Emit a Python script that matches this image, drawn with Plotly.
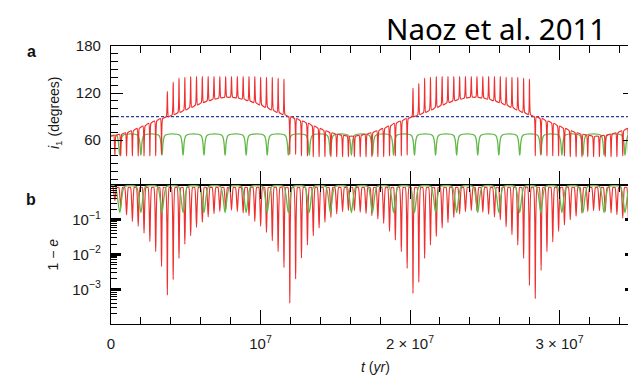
import plotly.graph_objects as go

# ---------------- data (times in Myr) ----------------
# red curve: one entry per Kozai cycle (spike / e-maximum)
t_spike_myr = [
    0.26, 0.65, 1.04, 1.43, 1.82, 2.21, 2.60, 2.99, 3.38,
    3.77,
    4.16, 4.55, 4.94, 5.33, 5.72, 6.11, 6.50, 6.89, 7.28, 7.67,
    8.06, 8.45, 8.84, 9.23, 9.62, 10.01, 10.40, 10.79, 11.18, 11.57,
    11.96,
    12.35, 12.74, 13.14, 13.53, 13.92, 14.31, 14.71, 15.10, 15.49, 15.88,
    16.28, 16.67, 17.06, 17.45, 17.85, 18.24, 18.63, 19.02, 19.42, 19.81,
    20.20,
    20.59, 20.98, 21.37, 21.76, 22.15, 22.54, 22.93, 23.32, 23.71, 24.10,
    24.48, 24.87, 25.26, 25.65, 26.04, 26.43, 26.82, 27.21, 27.60, 27.99,
    28.38,
    28.77, 29.16, 29.55, 29.94, 30.33, 30.72, 31.11, 31.50, 31.89, 32.28,
    32.67, 33.06, 33.45, 33.84, 34.23, 34.62,
]
inc_base = [
    66, 67.5, 69.5, 72, 75, 78, 81.5, 84.5, 87.5,
    90,
    92.5, 95.5, 98.5, 102, 105, 108, 110.5, 112.5, 114, 115,
    115, 114, 112.5, 110.5, 108, 105, 102, 98.5, 95.5, 92.5,
    90,
    87.5, 84.5, 81.5, 78, 75, 72, 69.5, 67.5, 66, 65,
    65, 66, 67.5, 69.5, 72, 75, 78, 81.5, 84.5, 87.5,
    90,
    92.5, 95.5, 98.5, 102, 105, 108, 110.5, 112.5, 114, 115,
    115, 114, 112.5, 110.5, 108, 105, 102, 98.5, 95.5, 92.5,
    90,
    87.5, 84.5, 81.5, 78, 75, 72, 69.5, 67.5, 66, 65,
    65, 66, 67.5, 69.5, 72, 75,
]
inc_tip = [
    41, 40, 40, 40, 40, 40, 40, 40, 42,
    122,
    134, 139, 140, 141, 141, 141, 141, 141, 141, 141,
    141, 141, 141, 141, 141, 140, 140, 140, 139, 138,
    42,
    42, 40, 40, 39, 39, 39, 39, 39, 39, 39,
    39, 39, 39, 39, 39, 39, 40, 40, 40, 41,
    126,
    132, 139, 140, 141, 141, 141, 141, 141, 141, 141,
    141, 141, 141, 141, 141, 140, 140, 140, 139, 138,
    40,
    42, 40, 40, 40, 40, 39, 39, 39, 39, 39,
    39, 39, 39, 39, 40, 40,
]
ome_dip = [
    0.355, 0.22, 0.138, 0.089, 0.065, 0.041, 0.0234, 0.012, 0.0045,
    6.8e-4,
    1.9e-3, 7.8e-3, 0.020, 0.035, 0.060, 0.085, 0.12, 0.15, 0.174, 0.19,
    0.19, 0.174, 0.158, 0.132, 0.089, 0.065, 0.043, 0.025, 0.012, 0.0042,
    4.0e-4,
    2.0e-3, 7.9e-3, 0.019, 0.035, 0.058, 0.085, 0.117, 0.148, 0.17, 0.186,
    0.182, 0.166, 0.151, 0.132, 0.105, 0.079, 0.046, 0.026, 0.012, 0.004,
    7.6e-4,
    1.6e-3, 7.8e-3, 0.019, 0.033, 0.058, 0.083, 0.117, 0.148, 0.17, 0.186,
    0.182, 0.166, 0.145, 0.12, 0.10, 0.063, 0.037, 0.019, 0.0078, 0.0013,
    5.4e-4,
    3.5e-3, 0.012, 0.023, 0.046, 0.071, 0.10, 0.126, 0.155, 0.174, 0.182,
    0.182, 0.174, 0.158, 0.141, 0.112, 0.089,
]
red_inc_start = 65.0
red_ome_top = 0.85

# green curve (quadrupole-only): one entry per cycle
t_green_myr = [0.59, 2.00, 3.41, 4.82, 6.22, 7.63, 9.04, 10.45, 11.86, 13.26,
               14.67, 16.08, 17.49, 18.90, 20.30, 21.71, 23.12, 24.53, 25.94,
               27.34, 28.75, 30.16, 31.57, 32.98, 34.38]
green_inc_base = 66.0
green_inc_tip = 41.0
green_ome_top = 0.90
green_ome_dip = 0.16

t_end_myr = 35.05
i_ref = 90  # i = 90 deg reference line

x_tickvals = [0, 1e7, 2e7, 3e7]
x_ticktext = ["0", "10<sup>7</sup>", "2 × 10<sup>7</sup>", "3 × 10<sup>7</sup>"]
ya_tickvals = [60, 120, 180]
yb_tickvals = [0.1, 0.01, 0.001]
yb_ticktext = ["10<sup>−1</sup>", "10<sup>−2</sup>", "10<sup>−3</sup>"]

# ---------------- build polylines ----------------
MYR = 1e6
half_a = 0.07   # spike half-width (Myr)
half_b = 0.12
half_ga = 0.2
half_gb = 0.3

rx_a, ry_a = [0.0], [red_inc_start]
rx_b, ry_b = [0.0], [0.99]
for t, b, tp, d in zip(t_spike_myr, inc_base, inc_tip, ome_dip):
    rx_a += [(t - half_a) * MYR, t * MYR, (t + half_a) * MYR]
    ry_a += [b, tp, b]
    rx_b += [(t - half_b) * MYR, t * MYR, (t + half_b) * MYR]
    ry_b += [red_ome_top, d, red_ome_top]
rx_a.append(t_end_myr * MYR); ry_a.append(inc_base[-1])
rx_b.append(t_end_myr * MYR); ry_b.append(red_ome_top)

gx_a, gy_a = [0.0], [green_inc_base]
gx_b, gy_b = [0.0], [0.99]
for t in t_green_myr:
    gx_a += [(t - half_ga) * MYR, t * MYR, (t + half_ga) * MYR]
    gy_a += [green_inc_base, green_inc_tip, green_inc_base]
    gx_b += [(t - half_gb) * MYR, t * MYR, (t + half_gb) * MYR]
    gy_b += [green_ome_top, green_ome_dip, green_ome_top]
gx_a.append(t_end_myr * MYR); gy_a.append(green_inc_base)
gx_b.append(t_end_myr * MYR); gy_b.append(green_ome_top)

RED = "#ee3030"
GREEN = "#62b848"
BLUE = "#2a3f9e"

fig = go.Figure()
fig.add_trace(go.Scatter(x=gx_a, y=gy_a, mode="lines",
                         line=dict(color=GREEN, width=1.3, shape="spline", smoothing=0.8),
                         xaxis="x", yaxis="y", hoverinfo="skip"))
fig.add_trace(go.Scatter(x=[0, t_end_myr * MYR], y=[i_ref, i_ref], mode="lines",
                         line=dict(color=BLUE, width=1.2, dash="3px,2px"),
                         xaxis="x", yaxis="y", hoverinfo="skip"))
fig.add_trace(go.Scatter(x=rx_a, y=ry_a, mode="lines",
                         line=dict(color=RED, width=1.2, shape="spline", smoothing=0.4),
                         xaxis="x", yaxis="y", hoverinfo="skip"))
fig.add_trace(go.Scatter(x=rx_b, y=ry_b, mode="lines",
                         line=dict(color=RED, width=1.2, shape="spline", smoothing=0.4),
                         xaxis="x2", yaxis="y2", hoverinfo="skip"))
fig.add_trace(go.Scatter(x=gx_b, y=gy_b, mode="lines",
                         line=dict(color=GREEN, width=1.3, shape="spline", smoothing=0.6),
                         xaxis="x2", yaxis="y2", hoverinfo="skip"))

tickfont = dict(family="Liberation Sans, Arial, sans-serif", size=15, color="#1a1a1a")
common_x = dict(range=[0, t_end_myr * MYR], showline=True, linecolor="black", linewidth=1.3,
                mirror="ticks", ticks="inside", ticklen=14, tickwidth=1.3, tickcolor="black",
                tickvals=x_tickvals, showgrid=False, zeroline=False, automargin=False,
                minor=dict(ticks="inside", ticklen=7, tickwidth=1.2, tickcolor="black",
                           dtick=2e6, tick0=0, showgrid=False))

minor_b = [m * 10.0 ** e for e in (-4, -3, -2, -1) for m in range(2, 10)] + [1.0, 1e-4]

# page body has an 8 px margin: the plot area is placed so that it lands at
# x 111..635, y 46..324 of the 636x375 window
fig.update_layout(
    width=636, height=375,
    margin=dict(l=103, r=9, t=38, b=59),
    paper_bgcolor="white", plot_bgcolor="white",
    showlegend=False,
    xaxis=dict(domain=[0, 1], anchor="y", showticklabels=False, **common_x),
    xaxis2=dict(domain=[0, 1], anchor="y2", matches="x", showticklabels=True,
                ticktext=x_ticktext, tickfont=tickfont, ticklabelstandoff=6, **common_x),
    yaxis=dict(domain=[0.5, 1], anchor="x", range=[3, 180], showline=True, linecolor="black",
               linewidth=1.3, mirror="ticks", ticks="inside", ticklen=12, tickwidth=1.3,
               tickcolor="black", tickvals=ya_tickvals, tickfont=tickfont, automargin=False,
               ticklabelstandoff=6, showgrid=False, zeroline=False,
               minor=dict(ticks="inside", ticklen=7, tickwidth=1.2, tickcolor="black",
                          dtick=10, tick0=0, showgrid=False)),
    yaxis2=dict(domain=[0, 0.5], anchor="x2", type="log", range=[-4, 0], showline=True,
                linecolor="black", linewidth=1.3, mirror="ticks", ticks="inside", ticklen=10,
                tickwidth=2.5, tickcolor="black", tickvals=yb_tickvals, ticktext=yb_ticktext,
                tickfont=tickfont, ticklabelstandoff=6, showgrid=False, zeroline=False,
                automargin=False,
                minor=dict(ticks="inside", ticklen=6, tickwidth=1.1, tickcolor="black",
                           tickmode="array", tickvals=minor_b, showgrid=False)),
)

def px_x(p):
    return (p - 111) / 524.0

def px_y(p):
    return (324 - p) / 278.0

lab_font = dict(family="Liberation Sans, Arial, sans-serif", size=14, color="#1a1a1a")
ann = dict(xref="paper", yref="paper", showarrow=False, xanchor="center", yanchor="middle")
fig.add_annotation(x=px_x(31), y=px_y(51), text="<b>a</b>",
                   font=dict(family="Liberation Sans, Arial, sans-serif", size=16, color="#111"),
                   **ann)
fig.add_annotation(x=px_x(31), y=px_y(199), text="<b>b</b>",
                   font=dict(family="Liberation Sans, Arial, sans-serif", size=16, color="#111"),
                   **ann)
fig.add_annotation(x=px_x(55), y=px_y(113), text="<i>i</i><sub>1</sub> (degrees)",
                   textangle=-90, font=lab_font, **ann)
fig.add_annotation(x=px_x(52), y=px_y(254.5), text="1 − <i>e</i>", textangle=-90,
                   font=lab_font, **ann)
fig.add_annotation(x=px_x(375), y=px_y(366.5), text="<i>t</i> (<i>yr</i>)", font=lab_font, **ann)
fig.add_annotation(x=px_x(496), y=px_y(28.5), text="Naoz et al. 2011",
                   font=dict(family="Noto Sans, Open Sans, sans-serif", size=29.5, color="black"),
                   **ann)

fig.write_html("out.html")
